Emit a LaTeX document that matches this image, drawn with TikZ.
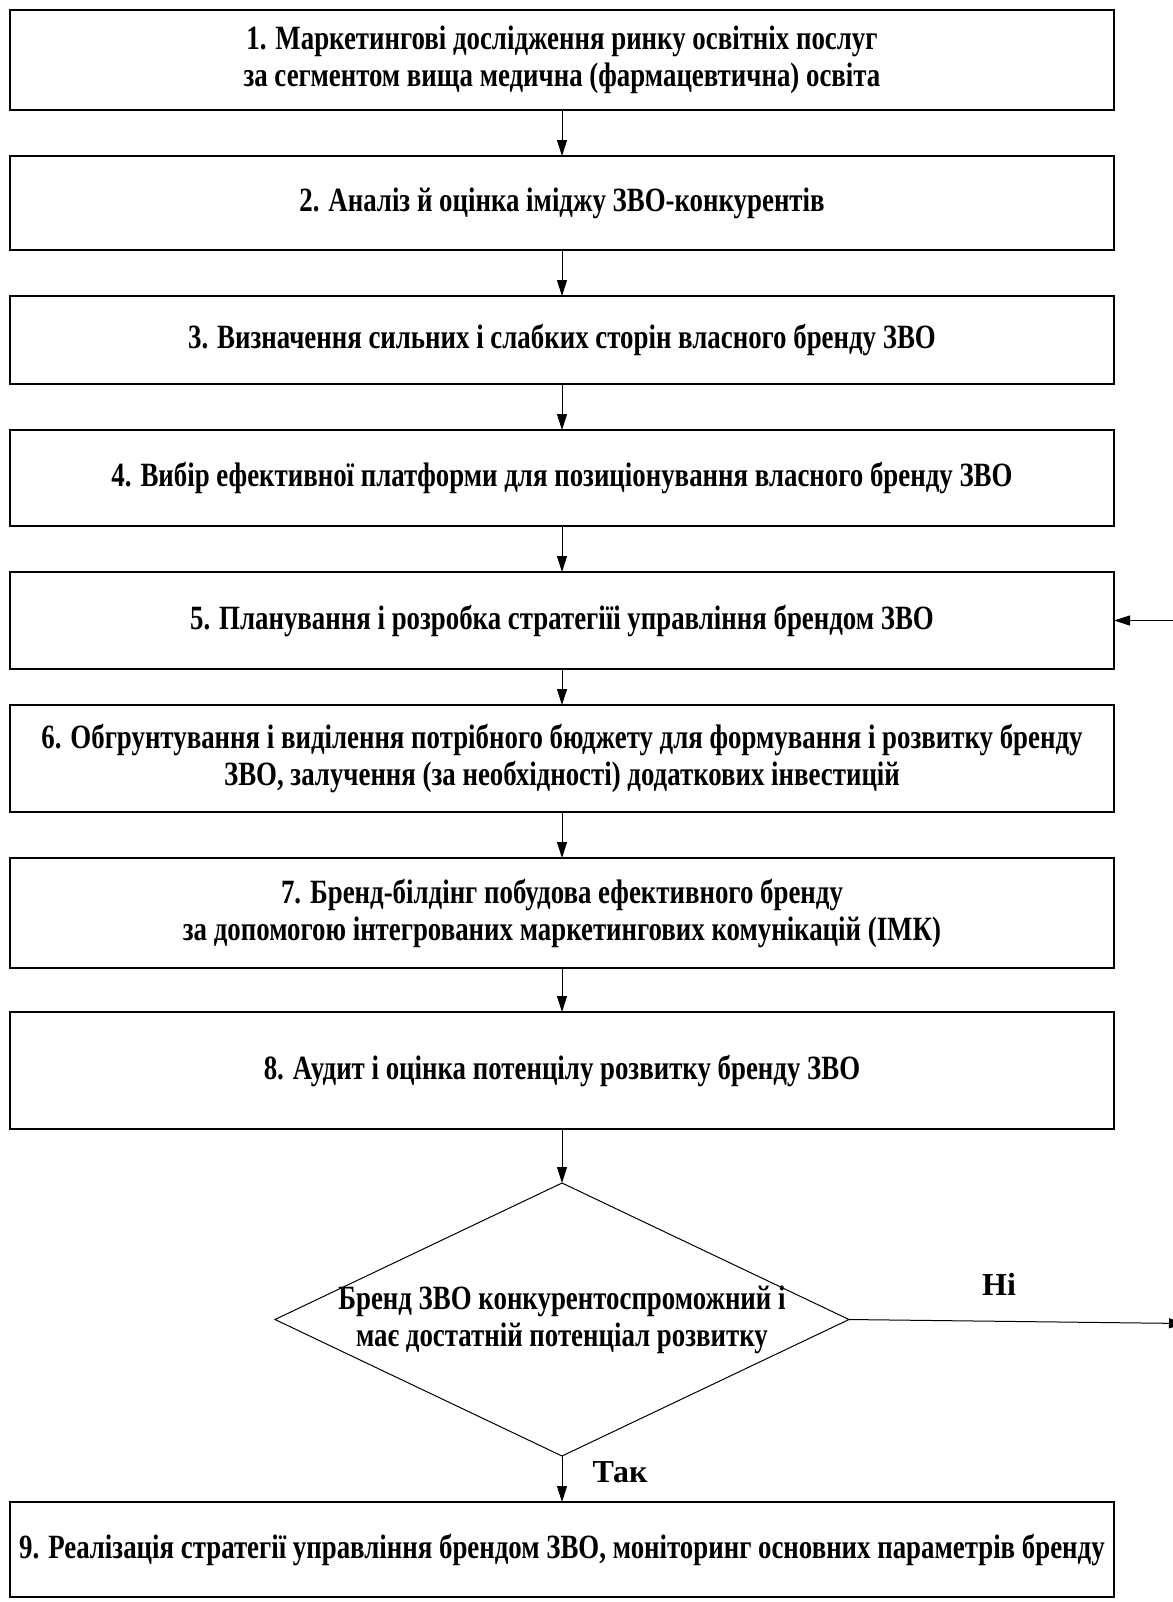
\documentclass[tikz,border=0pt]{standalone}
\usepackage{fontspec}
\setmainfont{Liberation Serif}[FakeStretch=0.79]
\newfontfamily\labelfont{Liberation Serif}
\usetikzlibrary{positioning,shapes.geometric,arrows.meta}

\begin{document}
\begin{tikzpicture}[x=0.5pt,y=-0.5pt,
	font=\fontsize{17pt}{18.5pt}\selectfont\bfseries,
	stage/.style={draw,line width=0.7pt,minimum width=552pt,align=center,inner sep=2pt,outer sep=0pt},
	check/.style={draw,diamond,line width=0.5pt,aspect=2.1,minimum width=287pt,minimum height=136.5pt,inner sep=-6pt,outer sep=0pt,align=center},
	flow/.style={draw,line width=0.5pt,-{Triangle[length=8pt,width=5pt]}},
	answer/.style={font=\labelfont\fontsize{16pt}{17.5pt}\selectfont\bfseries},
	node distance=23pt]
	\useasboundingbox (0,0) rectangle (1173,1602);

	%% Stages of brand management
	\node[stage,minimum height=50pt] (b1) at (562,60) {1. Маркетингові дослідження ринку освітніх послуг\\за сегментом вища медична (фармацевтична) освіта};
	\node[stage,minimum height=47pt,below=of b1] (b2) {2. Аналіз й оцінка іміджу ЗВО-конкурентів};
	\node[stage,minimum height=44pt,below=of b2] (b3) {3. Визначення сильних і слабких сторін власного бренду ЗВО};
	\node[stage,minimum height=48pt,below=of b3] (b4) {4. Вибір ефективної платформи для позиціонування власного бренду ЗВО};
	\node[stage,minimum height=48.5pt,below=of b4] (b5) {5. Планування і розробка стратегіїі управління брендом ЗВО};
	\node[stage,minimum height=53.5pt,below=18pt of b5] (b6) {6. Обгрунтування і виділення потрібного бюджету для формування і розвитку бренду\\ЗВО, залучення (за необхідності) додаткових інвестицій};
	\node[stage,minimum height=55pt,below=of b6] (b7) {7. Бренд-білдінг побудова ефективного бренду\\за допомогою інтегрованих маркетингових комунікацій (ІМК)};
	\node[stage,minimum height=58.5pt,below=22pt of b7] (b8) {8. Аудит і оцінка потенцілу розвитку бренду ЗВО};

	%% Decision
	\node[check,below=27pt of b8] (d1) {Бренд ЗВО конкурентоспроможний і\\має достатній потенціал розвитку};
	\node[stage,minimum height=47.5pt,below=of d1] (b9) {9. Реалізація стратегії управління брендом ЗВО, моніторинг основних параметрів бренду};

	\node[answer] (tak) at (620,1472) {Так};
	\node[answer] (ni) at (999,1284) {Ні};

	%% Connectors
	\foreach \from/\to in {b1/b2,b2/b3,b3/b4,b4/b5,b5/b6,b6/b7,b7/b8,b8/d1,d1/b9}
		\draw[flow] (\from) -- (\to);

	\coordinate (back) at ([xshift=36pt]b5.east);
	\coordinate (exit) at ([xshift=168pt,yshift=-2pt]d1.east);
	\draw[flow] (back) -- (b5.east);
	\draw[flow] (d1.east) -- (exit);
\end{tikzpicture}
\end{document}
